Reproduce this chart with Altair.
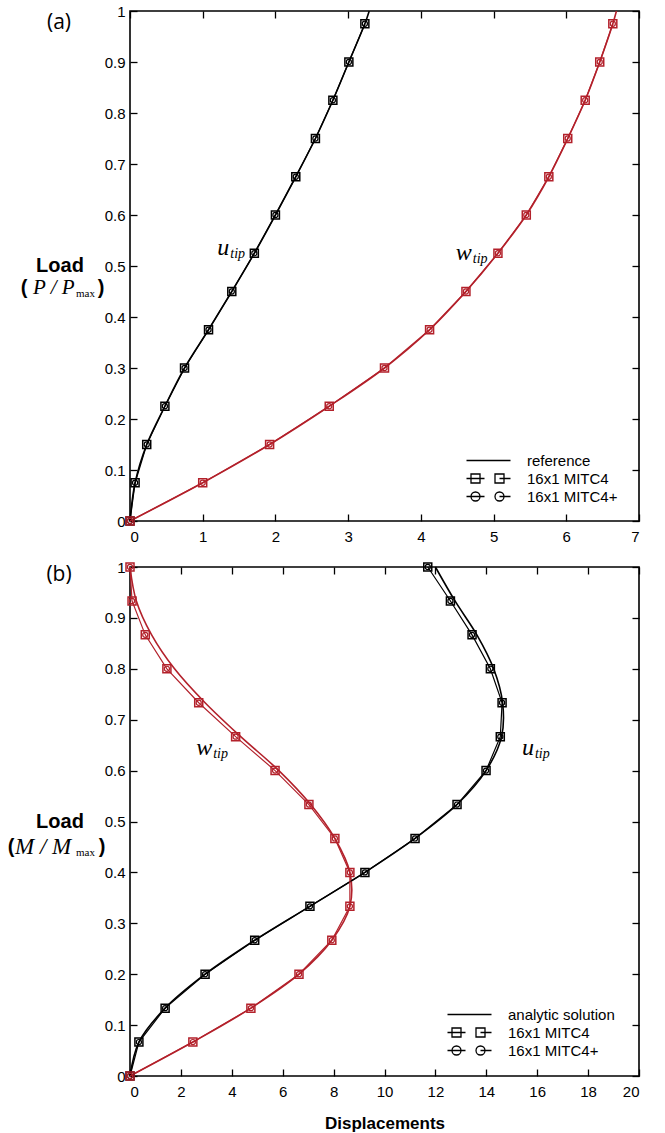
import altair as alt
import pandas as pd

RED = "#b3212b"
SANS = "Liberation Sans"
SERIF = "Liberation Serif"

# ---------------- panel (a): tip load P/Pmax ----------------
a_load = [0.0, 0.075, 0.15, 0.225, 0.3, 0.375, 0.45, 0.525, 0.6, 0.675, 0.75, 0.825, 0.9, 0.975]
a_u_fe = [0.0, 0.07, 0.23, 0.48, 0.75, 1.08, 1.40, 1.71, 2.00, 2.28, 2.55, 2.79, 3.01, 3.23]
a_w_fe = [0.0, 1.00, 1.92, 2.74, 3.50, 4.12, 4.62, 5.06, 5.45, 5.76, 6.02, 6.26, 6.46, 6.64]
a_ref_load = [0.0, 0.075, 0.15, 0.225, 0.3, 0.375, 0.45, 0.525, 0.6, 0.675, 0.75, 0.825, 0.9, 0.975, 1.0]
a_ref_u = [0.0, 0.07, 0.23, 0.48, 0.75, 1.08, 1.40, 1.71, 2.00, 2.28, 2.55, 2.79, 3.01, 3.23, 3.29]
a_ref_w = [0.0, 1.00, 1.92, 2.74, 3.50, 4.12, 4.62, 5.06, 5.45, 5.76, 6.02, 6.26, 6.46, 6.64, 6.69]
a_xticks = [0, 1, 2, 3, 4, 5, 6, 7]
a_legend = ["reference", "16x1 MITC4", "16x1 MITC4+"]

# ---------------- panel (b): end moment M/Mmax ----------------
b_load = [0.0, 0.0667, 0.1333, 0.2, 0.2667, 0.3333, 0.4, 0.4667, 0.5333, 0.6,
          0.6667, 0.7333, 0.8, 0.8667, 0.9333, 1.0]
b_u_fe = [0.0, 0.35, 1.38, 2.95, 4.90, 7.07, 9.23, 11.20, 12.85, 13.99,
          14.55, 14.62, 14.16, 13.44, 12.59, 11.70]
b_w_fe = [0.0, 2.47, 4.75, 6.64, 7.93, 8.64, 8.64, 8.05, 7.03, 5.70,
          4.15, 2.70, 1.45, 0.60, 0.08, 0.0]
b_u_ana = [0.0, 0.35, 1.38, 2.95, 4.90, 7.07, 9.23, 11.20, 12.85, 13.99,
           14.60, 14.64, 14.29, 13.63, 12.77, 12.00]
b_w_ana = [0.0, 2.47, 4.75, 6.64, 7.93, 8.64, 8.64, 8.05, 7.10, 5.85,
           4.35, 2.95, 1.75, 0.85, 0.25, 0.0]
b_xticks = [0, 2, 4, 6, 8, 10, 12, 14, 16, 18, 20]
b_legend = ["analytic solution", "16x1 MITC4 ", "16x1 MITC4+ "]

yticks = [0, 0.1, 0.2, 0.3, 0.4, 0.5, 0.6, 0.7, 0.8, 0.9, 1]

# legend glyphs (custom SVG symbol paths)
PATH_LINE = "M-4.4,0H4.4"
PATH_SQ = ("M-4.4,0H-0.8M-3.5,-0.9H-1.7V0.9H-3.5Z"
           "M1.3,-0.9H3.1V0.9H1.3ZM2.2,0H4.4")
PATH_CI = ("M-4.4,0H-0.8M-1.7,0A0.9,0.9,0,1,1,-3.5,0A0.9,0.9,0,1,1,-1.7,0"
           "M3.1,0A0.9,0.9,0,1,1,1.3,0A0.9,0.9,0,1,1,3.1,0M2.2,0H4.4")


def long_df(load, u, w):
    return pd.DataFrame({
        "load": list(load) + list(load),
        "disp": list(u) + list(w),
        "comp": ["u"] * len(u) + ["w"] * len(w),
    })


def label_axis(orient, vals, title=None):
    kw = dict(orient=orient, values=vals, format="~g", domain=False, ticks=False,
              grid=False, labelFont=SANS, labelFontSize=15, labelColor="black",
              labelPadding=8 if orient == "bottom" else 5)
    if title is not None:
        kw.update(title=title, titleFont=SANS, titleFontSize=17, titleFontWeight="bold",
                  titleColor="black", titlePadding=16)
    else:
        kw.update(title=None)
    return alt.Axis(**kw)


def tick_axis(orient, vals):
    return alt.Axis(orient=orient, values=vals, labels=False, domain=False, ticks=True,
                    tickSize=7, tickWidth=1.3, tickColor="black", offset=-7,
                    grid=False, title=None)


def text_layer(t, x, y, dx=0, dy=0, **mk):
    return alt.Chart(pd.DataFrame({"t": [t]})).mark_text(
        color="black", baseline="middle", dx=dx, dy=dy, **mk).encode(
        x=x, y=y, text="t:N")


def panel(xdom, xticks, ref_df, fe_df, legend_labels, legend_x, legend_y,
          tag, tag_y, numer, numer_size, num_left, max_left, paren_l, paren_r, line2_dy,
          u_pos, w_pos, xtitle, height):
    xs = alt.Scale(domain=xdom, nice=False, zero=False)
    ys = alt.Scale(domain=[0, 1], nice=False)
    col = alt.Color("comp:N", scale=alt.Scale(domain=["u", "w"], range=["black", RED]),
                    legend=None)

    def X(axis):
        return alt.X("disp:Q", scale=xs, axis=axis)

    def Y(axis):
        return alt.Y("load:Q", scale=ys, axis=axis)

    ref = alt.Chart(ref_df).mark_line(strokeWidth=1.6, interpolate="catmull-rom").encode(
        x=X(label_axis("bottom", xticks, xtitle)), y=Y(label_axis("left", yticks)),
        color=col, order="load:Q")
    fe_line = alt.Chart(fe_df).mark_line(strokeWidth=1.2).encode(
        x=X(tick_axis("bottom", xticks)), y=Y(tick_axis("left", yticks)),
        color=col, order="load:Q")
    squares = alt.Chart(fe_df).mark_point(shape="square", size=64, filled=False,
                                          strokeWidth=1.5, opacity=1).encode(
        x=X(tick_axis("top", xticks)), y=Y(tick_axis("right", yticks)), color=col)
    circles = alt.Chart(fe_df).mark_point(shape="circle", size=26, filled=False,
                                          strokeWidth=1.2, opacity=1).encode(
        x=X(None), y=Y(None), color=col)

    leg_df = pd.DataFrame({"series": legend_labels, "disp": [xdom[0]] * 3, "load": [0.0] * 3})
    legend = alt.Chart(leg_df).mark_point(opacity=0, color="black", size=100,
                                          strokeWidth=1.3, filled=False).encode(
        x=X(None), y=Y(None),
        shape=alt.Shape("series:N",
                        scale=alt.Scale(domain=legend_labels,
                                        range=[PATH_LINE, PATH_SQ, PATH_CI]),
                        legend=alt.Legend(orient="none", legendX=legend_x, legendY=legend_y,
                                          title=None, padding=0, rowPadding=2,
                                          symbolSize=100, symbolStrokeWidth=1.3,
                                          symbolStrokeColor="black",
                                          symbolFillColor="transparent",
                                          symbolOpacity=1, labelOffset=31,
                                          labelFont=SANS, labelFontSize=15,
                                          labelColor="black")))

    y_mid = alt.YDatum(0.5, axis=None)
    tag_t = text_layer(tag, alt.value(-71), alt.value(tag_y),
                       font="Open Sans", fontSize=21, align="center")
    load_t = text_layer("Load", alt.value(-70), y_mid,
                        font=SANS, fontSize=20, fontWeight="bold", align="center")
    pl = text_layer("(", alt.value(paren_l), y_mid, dy=line2_dy,
                    font=SANS, fontSize=20, fontWeight="bold", align="center")
    pr = text_layer(")", alt.value(paren_r), y_mid, dy=line2_dy,
                    font=SANS, fontSize=20, fontWeight="bold", align="center")
    num = text_layer(numer, alt.value(num_left), y_mid, dy=line2_dy,
                     font=SERIF, fontSize=numer_size, fontStyle="italic", align="left")
    sub = text_layer("max", alt.value(max_left), y_mid, dy=line2_dy + 6,
                     font=SERIF, fontSize=11, align="left")

    ux, uy = alt.XDatum(u_pos[0], axis=None), alt.YDatum(u_pos[1], axis=None)
    wx, wy = alt.XDatum(w_pos[0], axis=None), alt.YDatum(w_pos[1], axis=None)
    u_t = text_layer("u", ux, uy, font=SERIF, fontSize=24, fontStyle="italic", align="left")
    u_s = text_layer("tip", ux, uy, dx=13, dy=6, font=SERIF, fontSize=14,
                     fontStyle="italic", align="left")
    w_t = text_layer("w", wx, wy, font=SERIF, fontSize=24, fontStyle="italic", align="left")
    w_s = text_layer("tip", wx, wy, dx=17, dy=6, font=SERIF, fontSize=14,
                     fontStyle="italic", align="left")

    return alt.layer(ref, fe_line, squares, circles, legend, tag_t, load_t, pl, num, sub, pr,
                     u_t, u_s, w_t, w_s).resolve_axis(
        x="independent", y="independent").properties(width=509, height=height)


pa = panel([0, 7], a_xticks, long_df(a_ref_load, a_ref_u, a_ref_w),
           long_df(a_load, a_u_fe, a_w_fe), a_legend, 351, 442,
           "(a)", 12, "P / P", 21, -97, -54, -106, -29, 22,
           (1.2, 0.535), (4.48, 0.525), None, 510)
pb = panel([0, 20], b_xticks, long_df(b_load, b_u_ana, b_w_ana),
           long_df(b_load, b_u_fe, b_w_fe), b_legend, 332, 440,
           "(b)", 8, "M / M", 23, -115, -54, -119, -28, 25,
           (15.4, 0.645), (2.6, 0.645), "Displacements", 509)

chart = alt.vconcat(pa, pb, spacing=46, bounds="flush").resolve_scale(
    shape="independent").resolve_legend(shape="independent").configure_view(
    stroke="black", strokeWidth=1.6).properties(
    padding={"left": 6, "top": 3, "right": 5, "bottom": 0})

chart.save("out.html", embed_options={"renderer": "svg", "actions": False})
